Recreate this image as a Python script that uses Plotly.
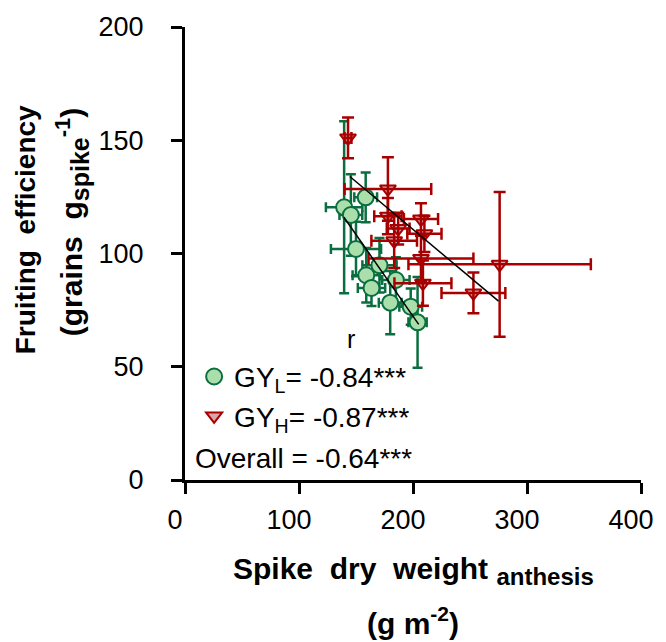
import plotly.graph_objects as go

# Green series (GY_L)
gl_x = [139.6, 145.5, 158.5, 150.0, 170.6, 159.0, 163.6, 185.0, 180.0, 198.0, 204.0]
gl_y = [120.4, 117.0, 124.8, 102.0, 94.8, 90.4, 84.8, 88.3, 78.3, 76.5, 69.6]
gl_xerr = [16, 10, 10, 22, 15, 12, 12, 12, 10, 10, 8]
gl_yerr = [38, 18, 11, 12, 12, 12, 8, 10, 14, 8, 20]

# Red series (GY_H)
gh_x = [143.0, 178.0, 178.0, 187.0, 183.5, 207.0, 210.0, 207.0, 208.7, 276.0, 253.0]
gh_y = [151.0, 128.5, 116.5, 111.0, 105.6, 115.2, 108.7, 97.8, 86.9, 95.2, 82.6]
gh_xerr = [3, 38, 12, 10, 20, 15, 15, 46, 25, 80, 28]
gh_yerr = [9, 14, 8, 7, 12, 7, 8, 10, 10, 32, 9]

# Regression line endpoints
fit_l_x = [139.4, 205.0]
fit_l_y = [116.0, 68.7]
fit_h_x = [144.6, 275.0]
fit_h_y = [134.0, 79.0]

x_ticks = [0, 100, 200, 300, 400]
y_ticks = [0, 50, 100, 150, 200]

GREEN_D = "#0b6e40"
GREEN_F = "#aadfab"
RED_D = "#a80000"
RED_F = "#d9a7aa"
FONT = "Liberation Sans, Arial, sans-serif"
SP = "&nbsp;"

fig = go.Figure()

fig.add_trace(go.Scatter(
    x=gl_x, y=gl_y, mode="markers", showlegend=False, hoverinfo="skip",
    marker=dict(size=1, opacity=0),
    error_x=dict(type="data", array=gl_xerr, color=GREEN_D, thickness=2.5, width=5),
    error_y=dict(type="data", array=gl_yerr, color=GREEN_D, thickness=2.5, width=5),
))
fig.add_trace(go.Scatter(
    x=gl_x, y=gl_y, mode="markers", name="GY<sub>L</sub>= -0.84***",
    marker=dict(symbol="circle", size=16, color=GREEN_F, line=dict(color=GREEN_D, width=2)),
))
fig.add_trace(go.Scatter(
    x=gh_x, y=gh_y, mode="markers", name="GY<sub>H</sub>= -0.87***",
    marker=dict(symbol="triangle-down", size=14, color=RED_F, line=dict(color=RED_D, width=2)),
))
fig.add_trace(go.Scatter(
    x=gh_x, y=gh_y, mode="markers", showlegend=False, hoverinfo="skip",
    marker=dict(size=1, opacity=0),
    error_x=dict(type="data", array=gh_xerr, color=RED_D, thickness=2.5, width=6),
    error_y=dict(type="data", array=gh_yerr, color=RED_D, thickness=2.5, width=6),
))
fig.add_trace(go.Scatter(x=fit_l_x, y=fit_l_y, mode="lines", showlegend=False,
                         line=dict(color="black", width=1.5)))
fig.add_trace(go.Scatter(x=fit_h_x, y=fit_h_y, mode="lines", showlegend=False,
                         line=dict(color="black", width=1.5)))

axis_common = dict(
    showline=True, linecolor="black", linewidth=3, mirror=False,
    ticks="outside", ticklen=11, tickwidth=3, tickcolor="black",
    showgrid=False, zeroline=False,
    tickfont=dict(family=FONT, size=27, color="black"),
)

fig.update_xaxes(range=[0, 400], tickvals=x_ticks, ticklabelstandoff=3,
                 ticklabelshift=-10, ticklabeloverflow="allow", **axis_common)
fig.update_yaxes(range=[0, 200], tickvals=y_ticks, ticklabelstandoff=22, **axis_common)

annotations = [
    dict(text="<b>Fruiting" + SP * 2 + "efficiency</b>", x=-0.348, y=0.552, xref="paper", yref="paper",
         textangle=-90, showarrow=False, font=dict(family=FONT, size=28, color="black"),
         xanchor="center", yanchor="middle"),
    dict(text="<b>(grains" + SP * 2 + "g<sub><span style=\"font-size:25px\">spike</span></sub>"
              "<sup><span style=\"font-size:22px\">-1</span></sup>)</b>",
         x=-0.249, y=0.57, xref="paper", yref="paper",
         textangle=-90, showarrow=False, font=dict(family=FONT, size=30, color="black"),
         xanchor="center", yanchor="middle"),
    dict(text="<b>Spike" + SP * 2 + "dry" + SP * 2 + "weight" + SP +
              "<sub><span style=\"font-size:24px\">anthesis</span></sub></b>",
         x=0.5, y=-0.2, xref="paper", yref="paper",
         showarrow=False, font=dict(family=FONT, size=30, color="black"),
         xanchor="center", yanchor="middle"),
    dict(text="<b>(g m<sup>-2</sup>)</b>", x=0.5, y=-0.311, xref="paper", yref="paper",
         showarrow=False, font=dict(family=FONT, size=30, color="black"),
         xanchor="center", yanchor="middle"),
    dict(text="r", x=0.364, y=0.312, xref="paper", yref="paper",
         showarrow=False, font=dict(family=FONT, size=25, color="black"),
         xanchor="center", yanchor="middle"),
    dict(text="Overall = -0.64***", x=0.26, y=0.048, xref="paper", yref="paper",
         showarrow=False, font=dict(family=FONT, size=28, color="black"),
         xanchor="center", yanchor="middle"),
]

fig.update_layout(
    width=666, height=642,
    margin=dict(l=185, r=19, t=20, b=162),
    plot_bgcolor="white", paper_bgcolor="white",
    annotations=annotations,
    legend=dict(x=0.02, y=0.283, xanchor="left", yanchor="top",
                bgcolor="rgba(0,0,0,0)", font=dict(family=FONT, size=28, color="black"),
                itemsizing="trace"),
)

fig.write_html("out.html")
